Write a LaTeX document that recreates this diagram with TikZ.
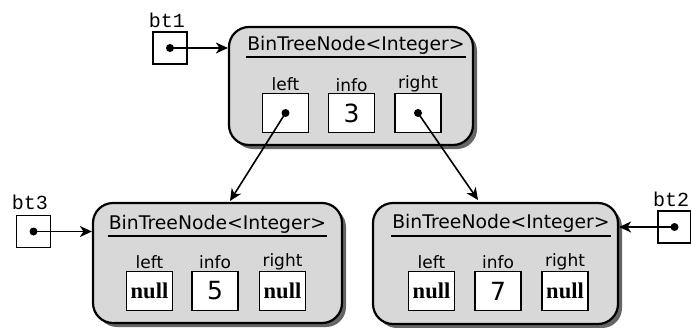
\documentclass[tikz,border=0pt]{standalone}
\usepackage{fontspec}
\setmainfont{DejaVu Sans}
\newfontfamily\monof{Liberation Mono}
\newfontfamily\serifb{Liberation Serif}
\usetikzlibrary{shadows,arrows.meta}
\definecolor{nodegray}{HTML}{D8D8D8}
\tikzset{
  bignode/.style={draw=black,line width=2.2pt,fill=nodegray,rounded corners=20pt,
    minimum width=244pt,minimum height=118pt,inner sep=0pt,
    drop shadow={shadow xshift=4pt,shadow yshift=-4pt,fill=black!60,opacity=1}},
  titletext/.style={anchor=base,inner xsep=1pt,inner ysep=0pt,text depth=7pt,
    font=\fontsize{18.8}{21}\selectfont},
  cell/.style={draw=black,line width=1.4pt,fill=white,minimum width=46pt,minimum height=39pt,inner sep=0pt},
  lbl/.style={anchor=base,inner sep=0pt,font=\fontsize{17}{19}\selectfont},
  numtext/.style={font=\fontsize{25}{27}\selectfont},
  nulltext/.style={font=\serifb\bfseries\fontsize{22.5}{24}\selectfont},
  ptr/.style={draw=black,line width=1.4pt,fill=white,minimum width=34pt,minimum height=32pt,inner sep=0pt},
  varname/.style={anchor=base,inner sep=0pt,font=\monof\fontsize{20}{22}\selectfont},
  arr/.style={line width=1.6pt,-{Stealth[length=12pt,width=11pt,inset=3.5pt]}},
  uline/.style={line width=1.6pt},
}
\begin{document}
\begin{tikzpicture}[x=1pt,y=-1pt]
\useasboundingbox (0,0) rectangle (691,327);
% ---------- top node ----------
\node[bignode] (top) at (351,86) {};
\node[titletext] (ttop) at (356,50) {BinTreeNode<Integer>};
\draw[uline] (ttop.south west) -- (ttop.south east);
\node[cell] (tl) at (285.5,113) {};
\node[cell] (ti) at (351.5,113) {};
\node[cell] (tr) at (418,113) {};
\node[lbl] (tll) at (285.5,90.5) {left};
\node[lbl] (til) at (351.5,91) {info};
\node[lbl] (trl) at (418,88.5) {right};
\node[numtext] at (ti.center) {3};
\fill (tl.center) circle (4pt);
\fill (tr.center) circle (4pt);
% ---------- bottom left node ----------
\node[bignode,minimum width=249pt,minimum height=120pt] (bl) at (217.5,263) {};
\node[titletext] (tbl) at (217.5,229) {BinTreeNode<Integer>};
\draw[uline] (tbl.south west) -- (tbl.south east);
\node[cell] (bll) at (149.5,291) {};
\node[cell] (bli) at (215,291) {};
\node[cell] (blr) at (282.5,291) {};
\node[lbl] at (149.5,268) {left};
\node[lbl] at (215,268) {info};
\node[lbl] at (282.5,266) {right};
\node[nulltext] at (bll.center) {null};
\node[numtext] at (bli.center) {5};
\node[nulltext] at (blr.center) {null};
% ---------- bottom right node ----------
\node[bignode,minimum width=245pt,minimum height=121pt] (br) at (495.5,263.5) {};
\node[titletext] (tbr) at (501,228.5) {BinTreeNode<Integer>};
\draw[uline] (tbr.south west) -- (tbr.south east);
\node[cell] (brl) at (431.5,291) {};
\node[cell] (bri) at (498,291) {};
\node[cell] (brr) at (565,291) {};
\node[lbl] at (431.5,268) {left};
\node[lbl] at (498,268) {info};
\node[lbl] at (565,266) {right};
\node[nulltext] at (brl.center) {null};
\node[numtext] at (bri.center) {7};
\node[nulltext] at (brr.center) {null};
% ---------- reference variables ----------
\node[ptr] (p1) at (170,48) {};
\node[varname] at (167,27) {bt1};
\fill (p1.center) circle (4pt);
\draw[arr] (p1.center) -- (p1.center -| top.west);
\node[ptr] (p3) at (33.5,231.5) {};
\node[varname] at (30,209) {bt3};
\fill (p3.center) circle (4pt);
\draw[arr] (p3.center) -- (p3.center -| bl.west);
\node[ptr,minimum width=33pt] (p2) at (674.5,227) {};
\node[varname,anchor=base west] at (653,206) {bt2};
\fill (p2.center) circle (4pt);
\draw[arr] (p2.center) -- (p2.center -| br.east);
% ---------- tree links ----------
\coordinate (blin) at (230,201);
\coordinate (brin) at (478,200);
\draw[arr] (tl.center) -- (blin);
\draw[arr] (tr.center) -- (brin);
\end{tikzpicture}
\end{document}
